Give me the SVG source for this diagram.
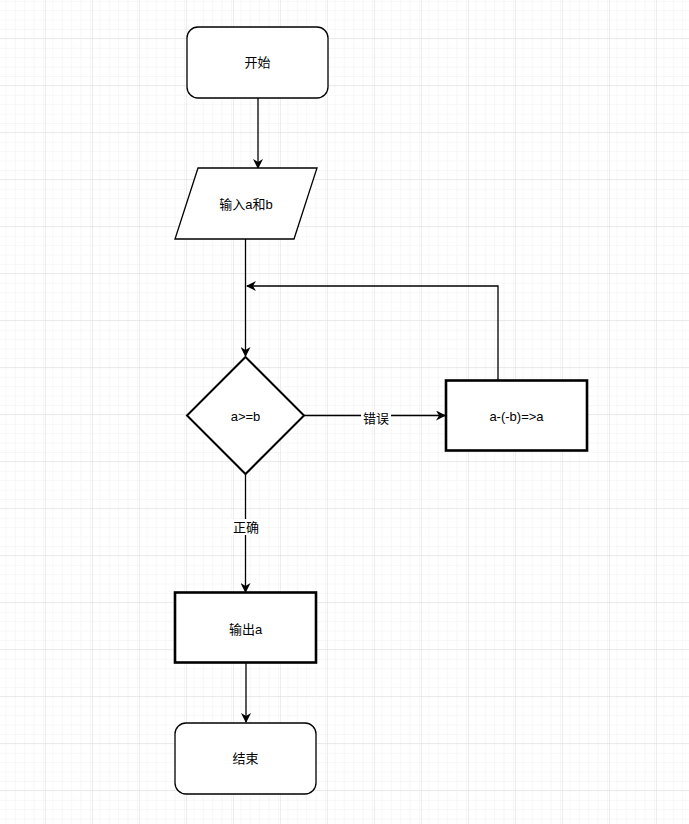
<svg xmlns="http://www.w3.org/2000/svg" width="689" height="824" viewBox="0 0 689 824">
<defs>
<pattern id="minor" width="9.4" height="9.4" patternUnits="userSpaceOnUse" x="-2" y="-9">
<path d="M 9.4 0 L 0 0 0 9.4" fill="none" stroke="#f0f0f0" stroke-width="1"/>
</pattern>
<pattern id="major" width="47" height="47" patternUnits="userSpaceOnUse" x="-2" y="-9">
<rect width="47" height="47" fill="url(#minor)"/>
<path d="M 47 0 L 0 0 0 47" fill="none" stroke="#dcdcdc" stroke-width="1"/>
</pattern>
<marker id="arr" viewBox="0 0 10 10" refX="9" refY="5" markerWidth="10" markerHeight="10" markerUnits="userSpaceOnUse" orient="auto">
<path d="M 0 0 L 10 5 L 0 10 L 3 5 Z" fill="#000"/>
</marker>
</defs>
<style>
.t{font-family:"Liberation Sans","Noto Sans CJK SC",sans-serif;font-size:13px;fill:#000;text-anchor:middle;dominant-baseline:central}
.n{fill:#fff;stroke:#000;stroke-width:1.3}
.d{fill:#fff;stroke:#000;stroke-width:2}
.r{fill:#fff;stroke:#000;stroke-width:2.6}
.c{fill:none;stroke:#000;stroke-width:1.3}
.lbl{fill:#fff}
</style>
<rect width="689" height="824" fill="#fff"/>
<rect width="689" height="824" fill="url(#major)"/>
<g id="connectors">
<path class="c" d="M 258 98 L 258 168" marker-end="url(#arr)"/>
<path class="c" d="M 245.5 239 L 245.5 356" marker-end="url(#arr)"/>
<path class="c" d="M 498 380 L 498 286 L 247 286" marker-end="url(#arr)"/>
<path class="c" d="M 304 415.5 L 445 415.5" marker-end="url(#arr)"/>
<rect class="lbl" x="361" y="410" width="30" height="16"/>
<text class="t" x="376" y="418">错误</text>
<path class="c" d="M 245.5 474 L 245.5 592" marker-end="url(#arr)"/>
<rect class="lbl" x="231" y="519" width="30" height="16"/>
<text class="t" x="246" y="527">正确</text>
<path class="c" d="M 246 663 L 246 722" marker-end="url(#arr)"/>
</g>
<g id="start">
<rect class="n" x="187" y="27" width="141" height="71" rx="11"/>
<text class="t" x="257.5" y="62">开始</text>
</g>
<g id="input">
<polygon class="n" points="198,168 317,168 294,239 175,239"/>
<text class="t" x="246" y="204">输入a和b</text>
</g>
<g id="decision">
<polygon class="d" points="245.5,357 304,415.5 245.5,474 187,415.5"/>
<text class="t" x="245.5" y="416">a&gt;=b</text>
</g>
<g id="process">
<rect class="r" x="446" y="380.5" width="141" height="70"/>
<text class="t" x="516.5" y="416">a-(-b)=&gt;a</text>
</g>
<g id="output">
<rect class="r" x="175" y="592.5" width="141" height="70"/>
<text class="t" x="245.5" y="629">输出a</text>
</g>
<g id="end">
<rect class="n" x="175" y="723" width="141" height="71" rx="11"/>
<text class="t" x="245.5" y="758">结束</text>
</g>
</svg>
